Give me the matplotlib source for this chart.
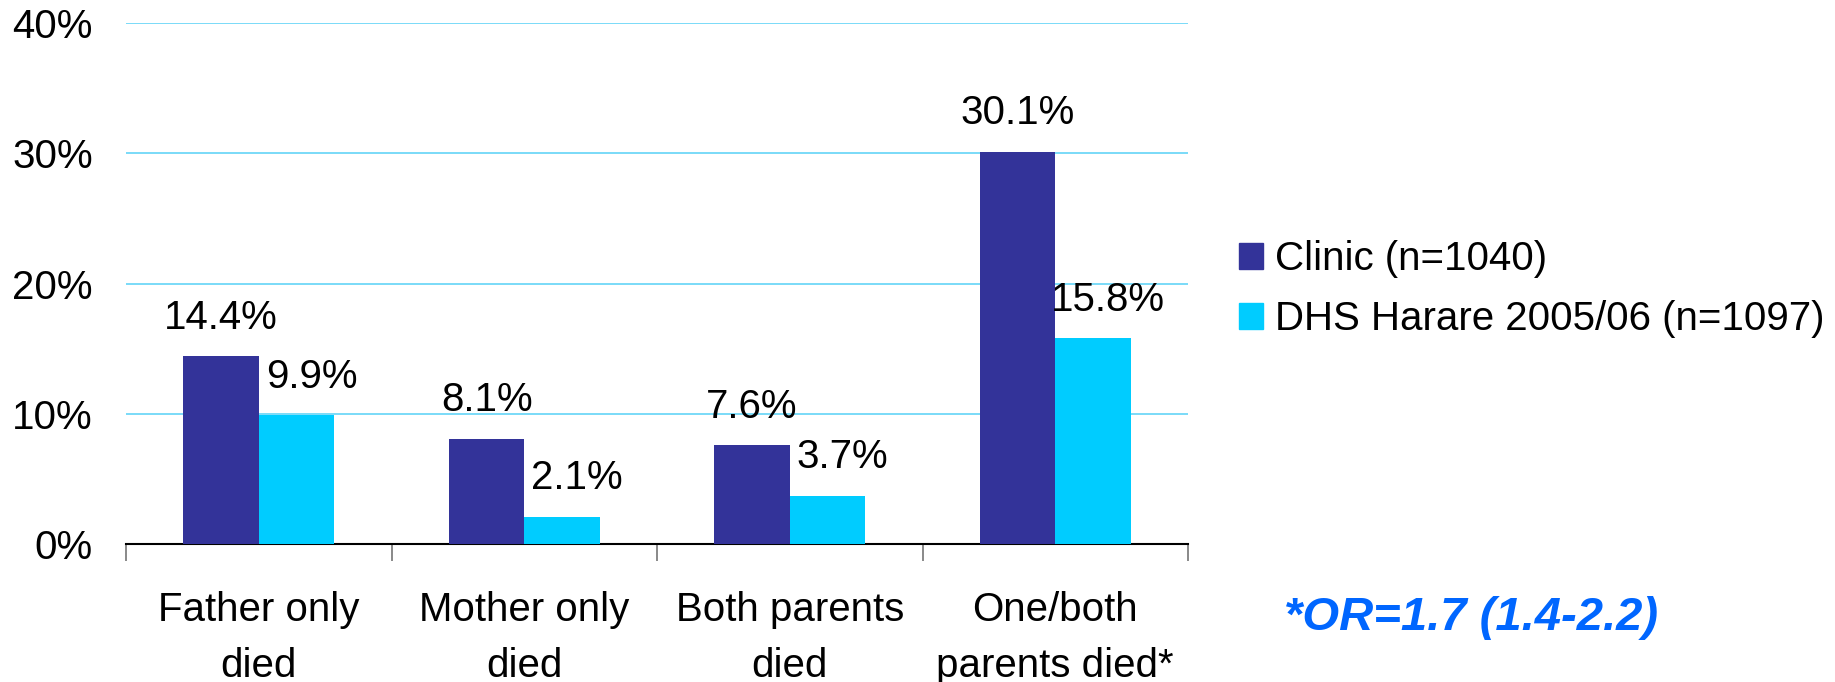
import numpy as np
import matplotlib
matplotlib.use('Agg')
import matplotlib.pyplot as plt
from matplotlib.patches import Patch

plt.rcParams['font.family'] = ['Liberation Sans', 'DejaVu Sans']
plt.rcParams['font.size'] = 29

# --- Data ---
categories = ['Father only\ndied', 'Mother only\ndied', 'Both parents\ndied', 'One/both\nparents died*']
clinic = [14.4, 8.1, 7.6, 30.1]
dhs = [9.9, 2.1, 3.7, 15.8]
series_names = ['Clinic (n=1040)', 'DHS Harare 2005/06 (n=1097)']
yticks = [0, 10, 20, 30, 40]
note = '*OR=1.7 (1.4-2.2)'

col_clinic = '#333399'
col_dhs = '#00CCFF'
col_grid = '#6FD8F8'

fig = plt.figure(figsize=(18.35, 6.82), dpi=100)
ax = fig.add_axes([0.0687, 0.2023, 0.5787, 0.764])

x = np.arange(len(categories))
w = 0.284
ax.bar(x - w / 2, clinic, w, color=col_clinic, zorder=3)
ax.bar(x + w / 2, dhs, w, color=col_dhs, zorder=3)

# value labels
for xi, v in zip(x - w / 2, clinic):
    ax.annotate(f'{v:.1f}%', (xi, v), xytext=(0, 14), textcoords='offset points',
                ha='center', va='bottom', fontsize=29)
for xi, v in zip(x + w / 2, dhs):
    ax.annotate(f'{v:.1f}%', (xi, v), xytext=(11, 14), textcoords='offset points',
                ha='center', va='bottom', fontsize=29)

ax.set_xlim(-0.5, len(categories) - 0.5)
ax.set_ylim(0, 40)
ax.set_yticks(yticks)
ax.set_yticklabels([f'{t}%' for t in yticks])
ax.yaxis.grid(True, color=col_grid, linewidth=1.3, zorder=0)
ax.set_axisbelow(True)

ax.set_xticks(x)
ax.set_xticklabels(categories, linespacing=1.58)
ax.set_xticks(np.arange(-0.5, len(categories)), minor=True)
ax.tick_params(axis='x', which='major', length=0, pad=34)
ax.tick_params(axis='x', which='minor', length=12, width=1.3, color='#808080')
ax.tick_params(axis='y', length=0, pad=24)

for s in ['top', 'right', 'left']:
    ax.spines[s].set_visible(False)
ax.spines['bottom'].set_color('black')
ax.spines['bottom'].set_linewidth(1.5)

handles = [Patch(color=col_clinic), Patch(color=col_dhs)]
fig.legend(handles, series_names, loc='center left', bbox_to_anchor=(0.664, 0.576),
           frameon=False, fontsize=29, handlelength=0.6, handleheight=0.6,
           handletextpad=0.3, labelspacing=0.55, borderpad=0)

fig.text(0.700, 0.094, note, color='#0066FF', fontsize=34, fontweight='bold',
         fontstyle='italic', ha='left', va='center')

fig.savefig('out.png', dpi=100)
